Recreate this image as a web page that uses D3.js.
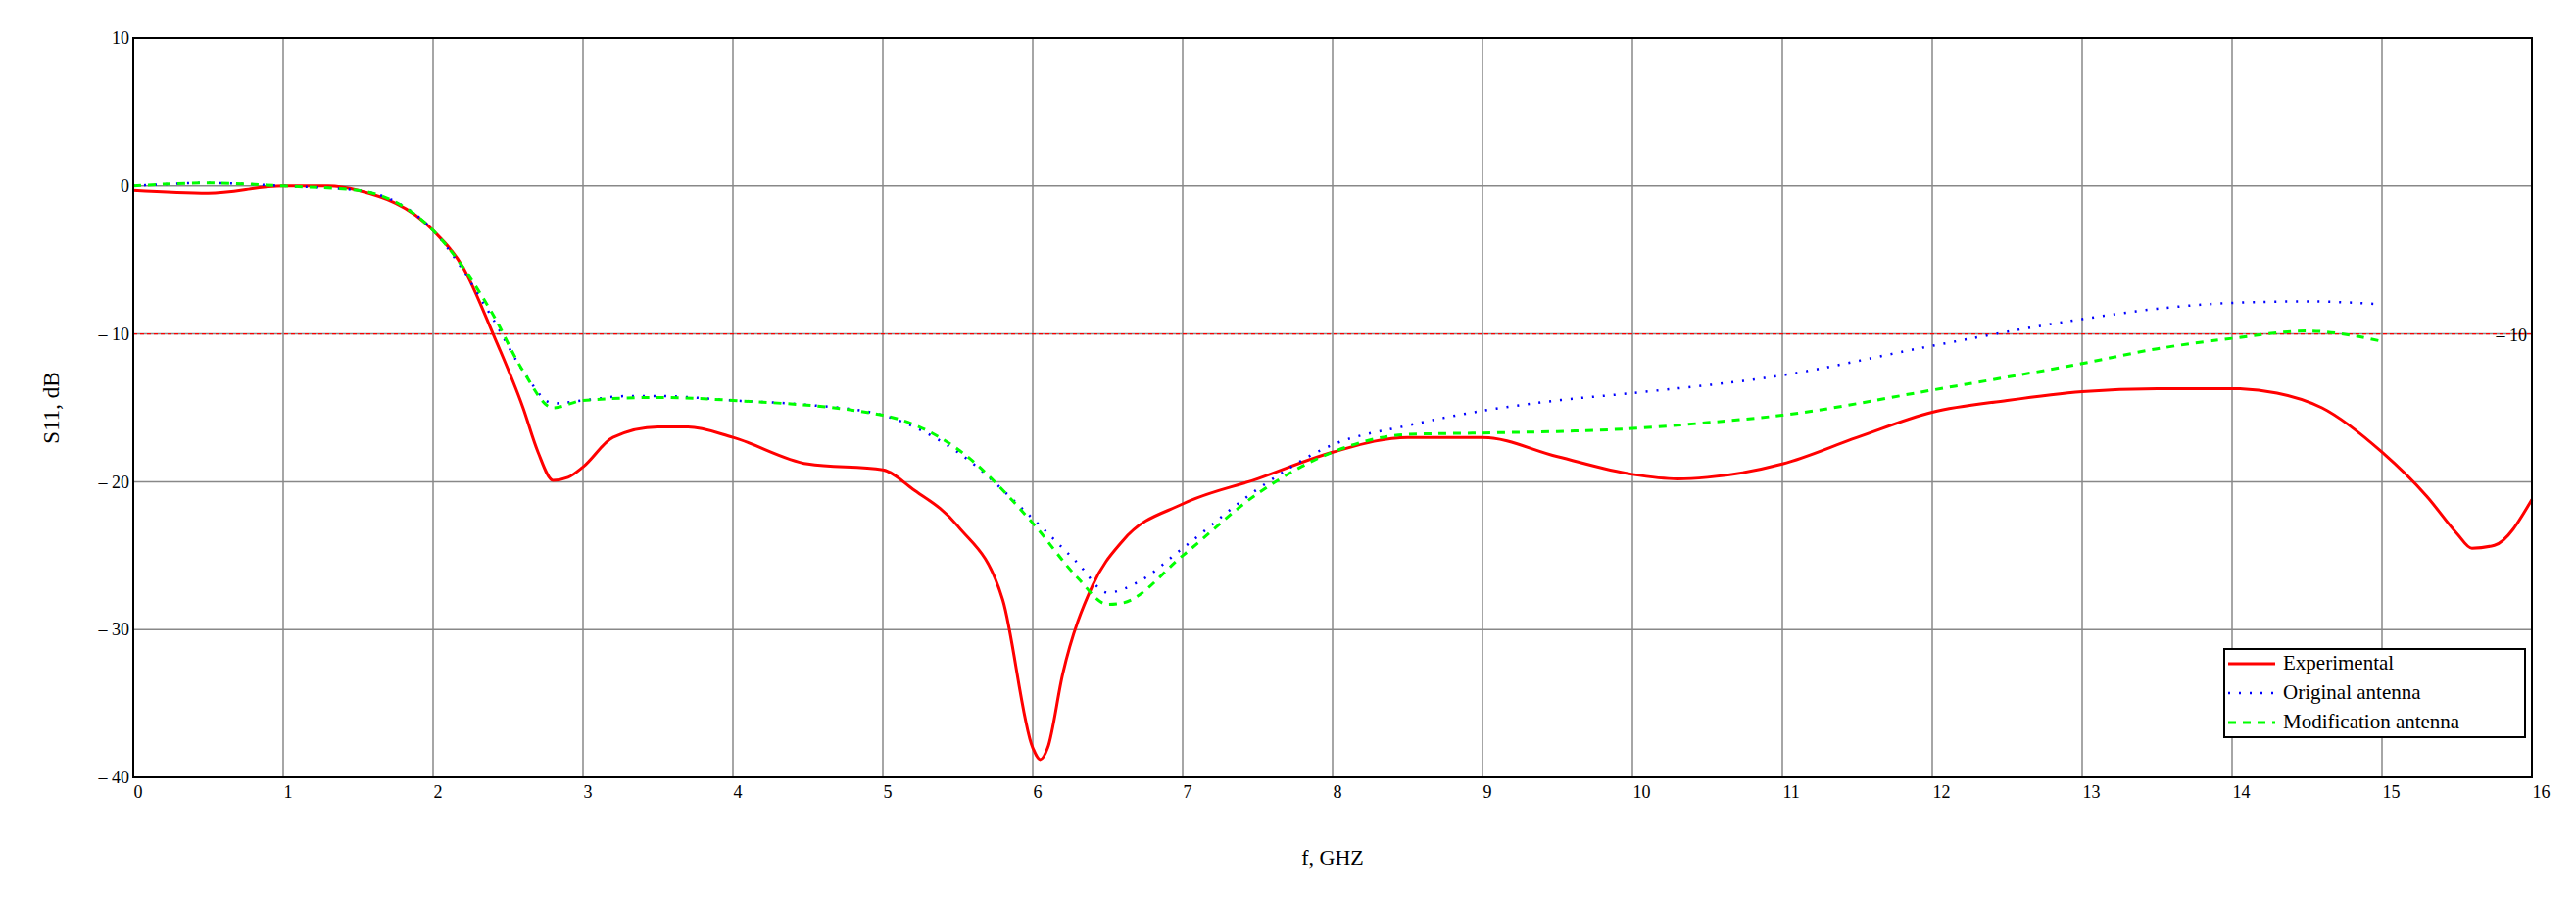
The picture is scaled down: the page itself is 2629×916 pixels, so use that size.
<!DOCTYPE html>
<html><head><meta charset="utf-8">
<script src="https://cdn.jsdelivr.net/npm/d3@7"></script>
<style>body{margin:0;background:#fff}text{font-family:"Liberation Serif","Times New Roman",serif}</style>
</head><body><svg id="c" width="2629" height="916"></svg>
<script>
const expX=[0,0.5,1,1.3,1.5,2,2.2,2.4,2.6,2.7,2.8,2.9,3,3.2,3.5,3.7,4,4.5,5,5.2,5.5,5.8,6,6.05,6.1,6.2,6.4,6.6,7,7.5,8,8.5,9,9.5,10,10.3,10.5,11,11.5,12,12.5,13,13.5,14,14.3,14.6,15,15.3,15.5,15.6,15.75,16];
const expY=[-0.3,-0.5,0,0,-0.3,-3,-5.5,-10,-15,-18,-19.9,-19.7,-19,-17,-16.3,-16.3,-17,-18.8,-19.2,-20.5,-23,-28,-38,-38.8,-38,-33,-27,-24,-21.5,-19.8,-18,-17,-17,-18.3,-19.5,-19.8,-19.7,-18.8,-17,-15.3,-14.5,-13.9,-13.7,-13.7,-14,-15,-18,-21,-23.5,-24.5,-24.3,-21.2];
const origX=[0,0.5,1,1.5,2,2.4,2.6,2.8,3,3.3,3.5,4,4.5,5,5.5,6,6.3,6.5,6.7,7,7.5,8,8.5,9,9.5,10,11,12,13,13.5,14,14.5,15];
const origY=[0,0.2,0,-0.3,-3,-9,-12.5,-14.7,-14.5,-14.2,-14.2,-14.5,-14.8,-15.5,-18,-22.5,-25.5,-27.5,-26.8,-24.5,-20.5,-17.5,-16.2,-15.2,-14.5,-14,-12.8,-10.8,-9,-8.3,-7.9,-7.8,-8];
const modX=[0,0.5,1,1.5,2,2.4,2.6,2.8,3,3.5,4,5,5.5,6,6.3,6.5,6.6,7,7.5,8,8.5,9,9.5,10,10.5,11,12,13,13.5,14,14.5,14.8,15];
const modY=[0,0.2,0,-0.3,-3,-8.7,-12.5,-15,-14.5,-14.3,-14.5,-15.5,-17.8,-22.8,-26.5,-28.3,-28.2,-25,-20.8,-18,-16.8,-16.7,-16.6,-16.4,-16,-15.5,-13.8,-12,-11,-10.3,-9.8,-10.1,-10.5];
const xTicks=d3.range(0,17,1), yTicks=[10,0,-10,-20,-30,-40];
const legendNames=["Experimental","Original antenna","Modification antenna"];

const svg=d3.select("#c");
const L=136,R=2584,T=39,B=793;
const x=d3.scaleLinear().domain([0,16]).range([L,R]);
const y=d3.scaleLinear().domain([-40,10]).range([B,T]);
const fmt=v=>v<0?"\u2013 "+(-v):String(v);
svg.append("g").selectAll("line").data(xTicks).join("line").attr("x1",d=>x(d)).attr("x2",d=>x(d)).attr("y1",T).attr("y2",B).attr("stroke","#888").attr("stroke-width",1.5);
svg.append("g").selectAll("line").data(yTicks).join("line").attr("y1",d=>y(d)).attr("y2",d=>y(d)).attr("x1",L).attr("x2",R).attr("stroke","#888").attr("stroke-width",1.5);
const xa=svg.append("g").attr("transform",`translate(0,${B})`).call(d3.axisBottom(x).tickValues(xTicks).tickSize(0).tickPadding(8).tickFormat(d=>d));
xa.selectAll("text").attr("font-size",18).attr("text-anchor","start").attr("font-family","Liberation Serif");
xa.select(".domain").remove();
const ya=svg.append("g").attr("transform",`translate(${L},0)`).call(d3.axisLeft(y).tickValues(yTicks).tickSize(0).tickPadding(4).tickFormat(fmt));
ya.selectAll("text").attr("font-size",18).attr("font-family","Liberation Serif");
ya.select(".domain").remove();
svg.append("line").attr("x1",L).attr("x2",R).attr("y1",y(-10)).attr("y2",y(-10)).attr("stroke","#f00").attr("stroke-width",1.2).attr("stroke-dasharray","4,3");
svg.append("text").attr("x",R-5).attr("y",y(-10)+7).attr("text-anchor","end").attr("font-size",18).text("\u2013 10");
const line=d3.line().x(d=>x(d[0])).y(d=>y(d[1])).curve(d3.curveMonotoneX);
const series=[
 {xs:expX,ys:expY,c:"#f00",w:3,da:null},
 {xs:origX,ys:origY,c:"#00f",w:2.5,da:"2,9"},
 {xs:modX,ys:modY,c:"#0f0",w:3,da:"8,7"}];
series.forEach(s=>{
 svg.append("path").datum(s.xs.map((v,i)=>[v,s.ys[i]])).attr("d",line).attr("fill","none").attr("stroke",s.c).attr("stroke-width",s.w).attr("stroke-dasharray",s.da);
});
svg.append("rect").attr("x",L).attr("y",T).attr("width",R-L).attr("height",B-T).attr("fill","none").attr("stroke","#000").attr("stroke-width",2);
const lg=svg.append("g").attr("transform","translate(2270,662)");
lg.append("rect").attr("width",307).attr("height",90).attr("fill","#fff").attr("stroke","#000").attr("stroke-width",2);
series.forEach((s,i)=>{
 lg.append("line").attr("x1",4).attr("x2",52).attr("y1",15+i*30).attr("y2",15+i*30).attr("stroke",s.c).attr("stroke-width",s.w).attr("stroke-dasharray",s.da);
 lg.append("text").attr("x",60).attr("y",21+i*30).attr("font-size",21).text(legendNames[i]);
});
svg.append("text").attr("x",(L+R)/2).attr("y",882).attr("text-anchor","middle").attr("font-size",22).text("f, GHZ");
svg.append("text").attr("transform",`translate(60,${y(-15)}) rotate(-90)`).attr("text-anchor","middle").attr("font-size",23).text("S11, dB");
</script></body></html>
